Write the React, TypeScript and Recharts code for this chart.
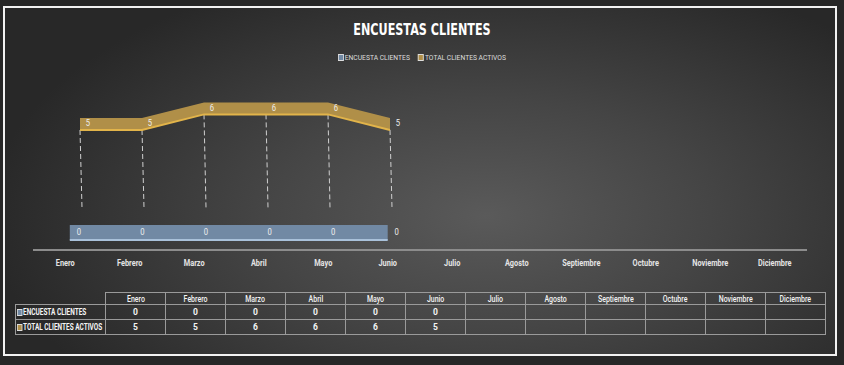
import { ComposedChart, Line, Area, Bar, XAxis, YAxis, LabelList } from 'recharts'

const months = ['Enero', 'Febrero', 'Marzo', 'Abril', 'Mayo', 'Junio', 'Julio', 'Agosto', 'Septiembre', 'Octubre', 'Noviembre', 'Diciembre']
const encuestaClientes: (number | null)[] = [0, 0, 0, 0, 0, 0, null, null, null, null, null, null]
const totalClientesActivos: (number | null)[] = [5, 5, 6, 6, 6, 5, null, null, null, null, null, null]
const seriesNames = ['ENCUESTA CLIENTES', 'TOTAL CLIENTES ACTIVOS']
const seriesColors = ['#7189a4', '#b08f48']
const edgeColors = ['#a9c1da', '#e2b44a']

const FONT = 'Roboto, "DejaVu Sans", sans-serif'

const chartData = months.map((month, i) => ({
    month,
    enc: encuestaClientes[i],
    tot: totalClientesActivos[i],
}))

// pseudo 3D ribbon thickness, in axis units
const TOT_DEPTH = 0.77
const ENC_DEPTH = 0.96

const DropLine = (props: any) => {
    const { x, y, width, height } = props
    if (height == null || isNaN(height)) return null
    const cx = x + width / 2
    return <line x1={cx} y1={y} x2={cx + 2} y2={y + height} stroke="#d0d0d0" strokeWidth={1} strokeDasharray="5 3" />
}

const makeLabel = (dx: number, dy: number) => (props: any) => {
    const { x, y, value } = props
    if (value == null) return null
    return (
        <g transform={`translate(${x + dx},${y + dy})`}>
            <text transform="scale(0.85,1)" fill="#eeeeee" fontSize={9} fontFamily={FONT} textAnchor="middle" dominantBaseline="middle">
                {value}
            </text>
        </g>
    )
}

const MonthTick = (props: any) => {
    const { x, y, payload } = props
    return (
        <g transform={`translate(${x},${y + 8})`}>
            <text transform="scale(0.82,1)" textAnchor="middle" fill="#e4e4e4" fontSize={9} fontWeight="bold" fontFamily={FONT}>
                {payload.value}
            </text>
        </g>
    )
}

const Swatch = ({ color }: { color: string }) => (
    <span style={{ display: 'inline-block', width: 5, height: 5, background: color, border: '1px solid #ddd', marginRight: 1, verticalAlign: 'middle' }} />
)

export default function App() {
    const cell: React.CSSProperties = {
        border: '1px solid #9a9a9a', textAlign: 'center', padding: 0, width: 59, overflow: 'hidden', whiteSpace: 'nowrap', lineHeight: '10px',
    }
    return (
        <div style={{
            position: 'absolute', left: 0, top: 0, width: 844, height: 365, overflow: 'hidden',
            background: '#272727', fontFamily: FONT,
        }}>
            <div style={{
                position: 'absolute', left: 3, top: 6, width: 834, height: 350, boxSizing: 'border-box',
                border: '2px solid #f2f2f2',
                background: 'radial-gradient(ellipse 60% 75% at 58% 60%, #5a5a5a 0%, #454545 45%, #282828 100%)',
            }} />
            <div style={{
                position: 'absolute', left: 0, width: 844, top: 20, textAlign: 'center',
                color: '#ffffff', fontWeight: 900, fontSize: 16, lineHeight: '20px',
                transform: 'scaleX(0.7)', fontFamily: '"DejaVu Sans", sans-serif',
            }}>
                ENCUESTAS CLIENTES
            </div>
            <div style={{
                position: 'absolute', left: 0, width: 844, top: 53, textAlign: 'center',
                color: '#dddddd', fontSize: 8, whiteSpace: 'pre', transform: 'scaleX(0.84)',
            }}>
                <Swatch color={seriesColors[0]} />{seriesNames[0]}{'     '}
                <Swatch color={seriesColors[1]} />{seriesNames[1]}
            </div>

            <div style={{ position: 'absolute', left: 0, top: 0 }}>
                <ComposedChart width={844} height={365} data={chartData} margin={{ top: 70, right: 37, left: 33, bottom: 85 }}>
                    <XAxis xAxisId="d" dataKey="month" hide height={0} padding={{ left: 16, right: 14 }} />
                    <XAxis xAxisId="b" dataKey="month" hide height={0} padding={{ left: 5, right: 6 }} />
                    <XAxis
                        xAxisId="lab"
                        dataKey="month"
                        axisLine={{ stroke: '#8c8c8c', strokeWidth: 2 }}
                        tickLine={false}
                        interval={0}
                        tick={<MonthTick />}
                        height={30}
                    />
                    <YAxis yAxisId="y" type="number" hide domain={[-2.692, 8.846]} allowDataOverflow />
                    <YAxis yAxisId="b" type="number" hide domain={[-0.641, 10.897]} allowDataOverflow />

                    <Bar xAxisId="d" yAxisId="y" dataKey="tot" barSize={2} shape={<DropLine />} isAnimationActive={false} />

                    <Area
                        xAxisId="b"
                        yAxisId="b"
                        dataKey={(d: any) => (d.enc == null ? null : [d.enc, d.enc + ENC_DEPTH])}
                        fill={seriesColors[0]}
                        fillOpacity={1}
                        stroke="none"
                        isAnimationActive={false}
                    />
                    <Line xAxisId="b" yAxisId="b" dataKey="enc" stroke={edgeColors[0]} strokeWidth={2} dot={false} isAnimationActive={false}>
                        <LabelList dataKey="enc" content={makeLabel(9, -7)} />
                    </Line>

                    <Area
                        xAxisId="d"
                        yAxisId="y"
                        dataKey={(d: any) => (d.tot == null ? null : [d.tot, d.tot + TOT_DEPTH])}
                        fill={seriesColors[1]}
                        fillOpacity={1}
                        stroke="none"
                        isAnimationActive={false}
                    />
                    <Line xAxisId="d" yAxisId="y" dataKey="tot" stroke={edgeColors[1]} strokeWidth={2} dot={false} isAnimationActive={false}>
                        <LabelList dataKey="tot" content={makeLabel(8, -6)} />
                    </Line>
                </ComposedChart>
            </div>

            <table style={{
                position: 'absolute', left: 15, top: 292, width: 810, borderCollapse: 'collapse', tableLayout: 'fixed',
                color: '#f4f4f4', fontSize: 8.5, fontFamily: FONT, fontWeight: 'bold',
            }}>
                <colgroup>
                    <col style={{ width: 90 }} />
                    {months.map(m => <col key={m} style={{ width: 60 }} />)}
                </colgroup>
                <tbody>
                    <tr style={{ height: 12 }}>
                        <td style={{ padding: 0 }} />
                        {months.map(m => (
                            <td key={m} style={{ ...cell, fontWeight: 500 }}>
                                <span style={{ display: 'inline-block', transform: 'scaleX(0.82)' }}>{m}</span>
                            </td>
                        ))}
                    </tr>
                    {[encuestaClientes, totalClientesActivos].map((vals, s) => (
                        <tr key={s} style={{ height: 15 }}>
                            <td style={{ ...cell, textAlign: 'left', paddingLeft: 1 }}>
                                <span style={{ display: 'inline-block', transform: 'scaleX(0.76)', transformOrigin: 'left center' }}>
                                    <Swatch color={seriesColors[s]} />{seriesNames[s]}
                                </span>
                            </td>
                            {vals.map((v, i) => <td key={i} style={cell}>{v == null ? '' : v}</td>)}
                        </tr>
                    ))}
                </tbody>
            </table>
        </div>
    )
}
